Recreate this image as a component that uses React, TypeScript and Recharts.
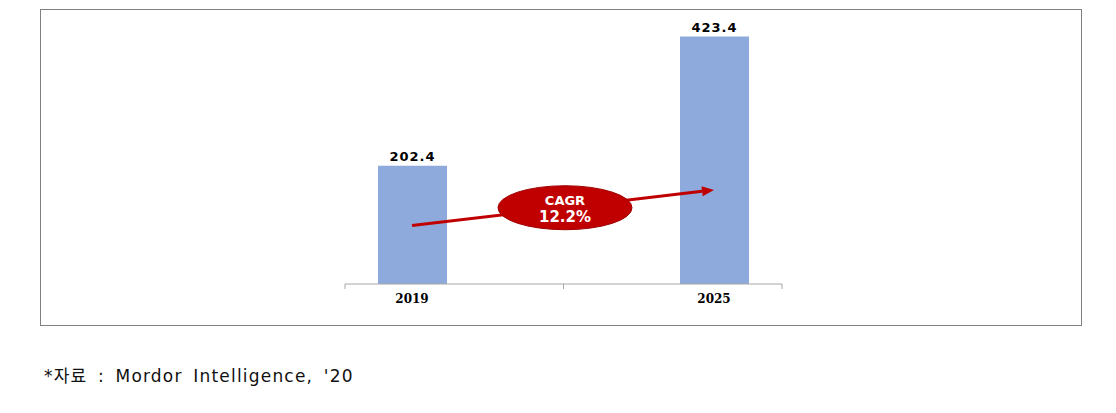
import * as React from 'react';
import {
  BarChart,
  Bar,
  XAxis,
  YAxis,
  LabelList,
  ReferenceLine,
} from 'recharts';

// market size by year
const years = ['2019', '2025'];
const marketSize = [202.4, 423.4];
const cagrLabel = ['CAGR', '12.2%'];
// arrow drawn from the 2019 bar up to the 2025 bar (value units)
const arrowFrom = 100;
const arrowTo = 161;
const frameTicks = [0, 0.5, 1];

const data = years.map((year, i) => ({ year, value: marketSize[i] }));

const BAR_COLOR = '#8EA9DB';
const AXIS_COLOR = '#A6A6A6';

// red arrow with the CAGR bubble sitting on its midpoint
function CagrArrow(props: any) {
  const { x1, y1, x2, y2 } = props;
  if (x1 == null || x2 == null) return null;
  const ang = Math.atan2(y2 - y1, x2 - x1);
  const head = 12;
  const hx = x2 - Math.cos(ang) * head;
  const hy = y2 - Math.sin(ang) * head;
  const nx = -Math.sin(ang) * 5;
  const ny = Math.cos(ang) * 5;
  const mx = (x1 + x2) / 2 + 2;
  const my = (y1 + y2) / 2;
  return (
    <g>
      <line x1={x1} y1={y1} x2={hx} y2={hy} stroke="#C00000" strokeWidth={3} />
      <polygon
        points={`${x2},${y2} ${hx + nx},${hy + ny} ${hx - nx},${hy - ny}`}
        fill="#C00000"
      />
      <ellipse cx={mx} cy={my} rx={67} ry={22} fill="#C00000" stroke="#A00000" strokeWidth={1} />
      <text
        x={mx}
        y={my - 3}
        textAnchor="middle"
        fill="#fff"
        fontFamily="'DejaVu Sans', sans-serif"
        fontWeight="bold"
        fontSize={13}
      >
        {cagrLabel[0]}
      </text>
      <text
        x={mx}
        y={my + 14}
        textAnchor="middle"
        fill="#fff"
        fontFamily="'DejaVu Sans', sans-serif"
        fontWeight="bold"
        fontSize={15}
      >
        {cagrLabel[1]}
      </text>
    </g>
  );
}

const EmptyTick = () => <g />;

export default function App() {
  return (
    <div style={{ position: 'relative', width: 1100, height: 397 }}>
      <div
        style={{
          position: 'absolute',
          left: 32,
          top: 1,
          width: 1040,
          height: 315,
          border: '1px solid #808080',
        }}
      />
      <div style={{ position: 'absolute', left: 32, top: 1 }}>
        <BarChart
          width={1042}
          height={317}
          data={data}
          margin={{ top: 12, right: 217, left: 221, bottom: 11 }}
        >
          <XAxis
            xAxisId="a"
            type="number"
            scale="linear"
            domain={[0, 1]}
            ticks={frameTicks}
            allowDataOverflow
            padding={{ left: 84, right: 83 }}
            axisLine={false}
            tick={EmptyTick}
            tickLine={{ stroke: AXIS_COLOR }}
            tickSize={5}
            height={1}
          />
          <XAxis
            xAxisId="b"
            dataKey="year"
            axisLine={false}
            tickLine={false}
            tickSize={6}
            tickMargin={3}
            height={30}
            tick={{
              fill: '#000',
              fontSize: 12,
              fontWeight: 'bold',
              fontFamily: "'DejaVu Serif', serif",
            }}
          />
          <YAxis hide domain={[0, 450]} />
          <ReferenceLine
            xAxisId="a"
            ifOverflow="visible"
            segment={[
              { x: 0, y: 0 },
              { x: 1, y: 0 },
            ]}
            stroke={AXIS_COLOR}
            strokeWidth={1}
          />
          <Bar
            xAxisId="b"
            dataKey="value"
            fill={BAR_COLOR}
            barSize={69}
            isAnimationActive={false}
          >
            <LabelList
              dataKey="value"
              position="top"
              offset={5}
              fill="#000"
              fontSize={13}
              fontWeight="bold"
              letterSpacing={1}
              fontFamily="'DejaVu Sans', sans-serif"
              formatter={(v: any) => Number(v).toFixed(1)}
            />
          </Bar>
          <ReferenceLine
            xAxisId="b"
            segment={[
              { x: years[0], y: arrowFrom },
              { x: years[1], y: arrowTo },
            ]}
            shape={CagrArrow}
          />
        </BarChart>
      </div>
      <div
        style={{
          position: 'absolute',
          left: 36,
          top: 354,
          fontFamily: "'DejaVu Sans', 'Noto Sans CJK KR', sans-serif",
          fontSize: 17,
          letterSpacing: 1.2,
          wordSpacing: 4,
          color: '#111',
          whiteSpace: 'nowrap',
        }}
      >
        *자료 : Mordor Intelligence, '20
      </div>
    </div>
  );
}
